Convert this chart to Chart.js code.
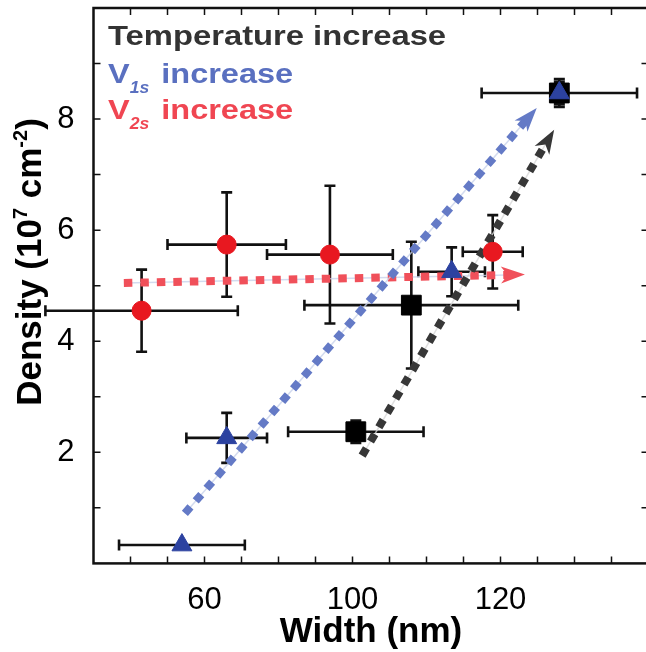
<!DOCTYPE html>
<html>
<head>
<meta charset="utf-8">
<script src="https://cdn.jsdelivr.net/npm/chart.js@4.4.1/dist/chart.umd.min.js"></script>
<style>
  html, body { margin: 0; padding: 0; background: #fff; overflow: hidden; }
</style>
</head>
<body>
<canvas id="chart" width="652" height="652"></canvas>
<script>
// black squares
const squareX = [100.9, 115.9, 155.9];
const squareY = [2.37, 4.65, 8.47];
const squareXErr = [18.3, 28.9, 21];
const squareYErr = [0.2, 1.14, 0.2];

// blue triangles
const triangleX = [53.9, 66.0, 126.8, 155.9];
const triangleY = [0.33, 2.26, 5.25, 8.47];
const triangleXErr = [17, 10.9, 9, 0];
const triangleYErr = [0, 0.45, 0.44, 0.25];

// red circles
const circleX = [43.0, 66.0, 93.9, 137.9];
const circleY = [4.55, 5.74, 5.56, 5.61];
const circleXErr = [26, 16, 17, 8.1];
const circleYErr = [0.74, 0.94, 1.24, 0.66];

// axis ticks
const xTickValues = [60, 100, 140];
const xTickLabels = ["60", "100", "120"];
const yTickValues = [2, 4, 6, 8];

// dotted arrows: [x0, y0, x1, y1]
const arrowBlue = [54.7, 0.90, 149.8, 8.20];
const arrowBlack = [102.6, 1.94, 154.5, 7.81];
const arrowRed = [38.2, 5.05, 146.6, 5.20];

const FONT = "'Liberation Sans', Arial, sans-serif";

function toPoints(xs, ys) {
  return xs.map((x, i) => ({ x: x, y: ys[i] }));
}

function drawErrorBars(ctx, chart, xs, ys, xe, ye) {
  const sx = chart.scales.x;
  const sy = chart.scales.y;
  const cap = 5.5;
  xs.forEach((x, i) => {
    const px = sx.getPixelForValue(x);
    const py = sy.getPixelForValue(ys[i]);
    if (xe[i] > 0) {
      const l = sx.getPixelForValue(x - xe[i]);
      const r = sx.getPixelForValue(x + xe[i]);
      ctx.beginPath();
      ctx.moveTo(l, py); ctx.lineTo(r, py);
      ctx.moveTo(l, py - cap); ctx.lineTo(l, py + cap);
      ctx.moveTo(r, py - cap); ctx.lineTo(r, py + cap);
      ctx.stroke();
    }
    if (ye[i] > 0) {
      const t = sy.getPixelForValue(ys[i] + ye[i]);
      const b = sy.getPixelForValue(ys[i] - ye[i]);
      ctx.beginPath();
      ctx.moveTo(px, t); ctx.lineTo(px, b);
      ctx.moveTo(px - cap, t); ctx.lineTo(px + cap, t);
      ctx.moveTo(px - cap, b); ctx.lineTo(px + cap, b);
      ctx.stroke();
    }
  });
}

function drawArrow(ctx, chart, a, color, faint) {
  const sx = chart.scales.x;
  const sy = chart.scales.y;
  const x0 = sx.getPixelForValue(a[0]);
  const y0 = sy.getPixelForValue(a[1]);
  const x1 = sx.getPixelForValue(a[2]);
  const y1 = sy.getPixelForValue(a[3]);
  const ang = Math.atan2(y1 - y0, x1 - x0);
  const c = Math.cos(ang), s = Math.sin(ang);
  const L = 24, W = 8.5;
  const bx = x1 - c * L * 0.7;
  const by = y1 - s * L * 0.7;

  ctx.save();
  ctx.strokeStyle = faint;
  ctx.lineWidth = 1.5;
  ctx.beginPath();
  ctx.moveTo(x0, y0); ctx.lineTo(bx, by);
  ctx.stroke();

  ctx.strokeStyle = color;
  ctx.lineWidth = 8;
  ctx.lineCap = "butt";
  ctx.setLineDash([8.5, 8]);
  ctx.beginPath();
  ctx.moveTo(x0, y0); ctx.lineTo(bx, by);
  ctx.stroke();

  ctx.setLineDash([]);
  ctx.fillStyle = color;
  ctx.beginPath();
  ctx.moveTo(x1, y1);
  ctx.lineTo(x1 - c * L - s * W, y1 - s * L + c * W);
  ctx.lineTo(x1 - c * L * 0.72, y1 - s * L * 0.72);
  ctx.lineTo(x1 - c * L + s * W, y1 - s * L - c * W);
  ctx.closePath();
  ctx.fill();
  ctx.restore();
}

// text with a slight horizontal stretch, like the figure
function stretchedText(ctx, text, x, y, sxFactor) {
  ctx.save();
  ctx.translate(x, y);
  ctx.scale(sxFactor, 1);
  ctx.fillText(text, 0, 0);
  const w = ctx.measureText(text).width * sxFactor;
  ctx.restore();
  return w;
}

function legendLine(ctx, x, y, sub, color) {
  ctx.fillStyle = color;
  ctx.font = "bold 28px " + FONT;
  const w = stretchedText(ctx, "V", x, y, 1.16);
  ctx.font = "italic bold 16px " + FONT;
  const w2 = stretchedText(ctx, sub, x + w, y + 10, 1.1);
  ctx.font = "bold 28px " + FONT;
  stretchedText(ctx, " increase", x + w + w2 + 3, y, 1.16);
}

const overlayPlugin = {
  id: "overlayPlugin",
  beforeDatasetsDraw(chart) {
    const { ctx } = chart;
    ctx.save();
    ctx.strokeStyle = "#111";
    ctx.lineWidth = 2.6;
    drawErrorBars(ctx, chart, circleX, circleY, circleXErr, circleYErr);
    drawErrorBars(ctx, chart, squareX, squareY, squareXErr, squareYErr);
    drawErrorBars(ctx, chart, triangleX, triangleY, triangleXErr, triangleYErr);
    drawArrow(ctx, chart, arrowRed, "rgb(240,80,90)", "rgba(200,210,235,0.8)");
    drawArrow(ctx, chart, arrowBlue, "rgb(100,122,198)", "rgba(200,210,235,0.8)");
    drawArrow(ctx, chart, arrowBlack, "rgb(55,55,55)", "rgba(215,215,215,0.8)");
    ctx.restore();
  },
  afterDraw(chart) {
    const { ctx, chartArea } = chart;
    const sx = chart.scales.x;
    const sy = chart.scales.y;
    const { left, right, top, bottom } = chartArea;

    ctx.save();
    // frame
    ctx.strokeStyle = "#111";
    ctx.lineWidth = 2.5;
    ctx.strokeRect(left, top, right - left, bottom - top);

    // inward ticks
    ctx.lineWidth = 1.5;
    ctx.beginPath();
    for (let v = 40; v < 180; v += 10) {
      const px = sx.getPixelForValue(v);
      ctx.moveTo(px, bottom); ctx.lineTo(px, bottom - 7);
      ctx.moveTo(px, top); ctx.lineTo(px, top + 7);
    }
    for (let v = 1; v < 10; v += 1) {
      const py = sy.getPixelForValue(v);
      ctx.moveTo(left, py); ctx.lineTo(left + 7, py);
      ctx.moveTo(right, py); ctx.lineTo(right - 7, py);
    }
    ctx.stroke();

    // legend text
    ctx.textAlign = "left";
    ctx.textBaseline = "alphabetic";
    ctx.fillStyle = "rgb(51,51,51)";
    ctx.font = "bold 28px " + FONT;
    stretchedText(ctx, "Temperature increase", 108, 45, 1.17);
    legendLine(ctx, 108, 83, "1s", "rgb(90,112,192)");
    legendLine(ctx, 108, 119, "2s", "rgb(240,70,82)");

    // x axis title
    ctx.fillStyle = "#000";
    ctx.font = "bold 35px " + FONT;
    ctx.textAlign = "center";
    ctx.fillText("Width (nm)", 371, 642);

    // y axis title with superscripts
    const parts = [
      { t: "Density (10", f: "bold 35px " + FONT, dy: 0 },
      { t: "7", f: "bold 20px " + FONT, dy: -14 },
      { t: " cm", f: "bold 35px " + FONT, dy: 0 },
      { t: "-2", f: "bold 20px " + FONT, dy: -14 },
      { t: ")", f: "bold 35px " + FONT, dy: 0 },
    ];
    let total = 0;
    parts.forEach((p) => { ctx.font = p.f; p.w = ctx.measureText(p.t).width; total += p.w; });
    ctx.translate(41, 262);
    ctx.rotate(-Math.PI / 2);
    ctx.textAlign = "left";
    let cx = -total / 2;
    parts.forEach((p) => {
      ctx.font = p.f;
      ctx.fillText(p.t, cx, p.dy);
      cx += p.w;
    });
    ctx.restore();
  },
};

function noPadding(scale) {
  scale.paddingLeft = 0;
  scale.paddingRight = 0;
  scale.paddingTop = 0;
  scale.paddingBottom = 0;
}

const ctx = document.getElementById("chart").getContext("2d");

new Chart(ctx, {
  type: "scatter",
  data: {
    datasets: [
      {
        data: toPoints(triangleX, triangleY),
        pointStyle: "triangle",
        pointRadius: 11.5,
        backgroundColor: "rgb(44,66,160)",
        borderColor: "rgb(44,66,160)",
        borderWidth: 1,
      },
      {
        data: toPoints(squareX, squareY),
        pointStyle: "rect",
        pointRadius: 14,
        backgroundColor: "#000",
        borderColor: "#000",
        borderWidth: 1,
      },
      {
        data: toPoints(circleX, circleY),
        pointStyle: "circle",
        pointRadius: 9.5,
        backgroundColor: "rgb(232,24,32)",
        borderColor: "rgb(232,24,32)",
        borderWidth: 1,
      },
    ],
  },
  options: {
    responsive: false,
    animation: false,
    layout: { autoPadding: false, padding: { left: 0, right: 3.5, top: 8, bottom: 0 } },
    plugins: {
      legend: { display: false },
      tooltip: { enabled: false },
    },
    scales: {
      x: {
        type: "linear",
        min: 30,
        max: 180,
        grid: { display: false },
        border: { display: false },
        afterFit(scale) { scale.height = 652 - 563.4; noPadding(scale); },
        afterBuildTicks(scale) { scale.ticks = xTickValues.map((v) => ({ value: v })); },
        ticks: {
          padding: 10,
          color: "#000",
          font: { family: FONT, size: 31 },
          callback: (v) => xTickLabels[xTickValues.indexOf(v)],
        },
      },
      y: {
        type: "linear",
        min: 0,
        max: 10,
        grid: { display: false },
        border: { display: false },
        afterFit(scale) { scale.width = 93.5; noPadding(scale); },
        afterBuildTicks(scale) { scale.ticks = yTickValues.map((v) => ({ value: v })); },
        ticks: {
          padding: 11,
          color: "#000",
          font: { family: FONT, size: 31 },
        },
      },
    },
  },
  plugins: [overlayPlugin],
});
</script>
</body>
</html>
